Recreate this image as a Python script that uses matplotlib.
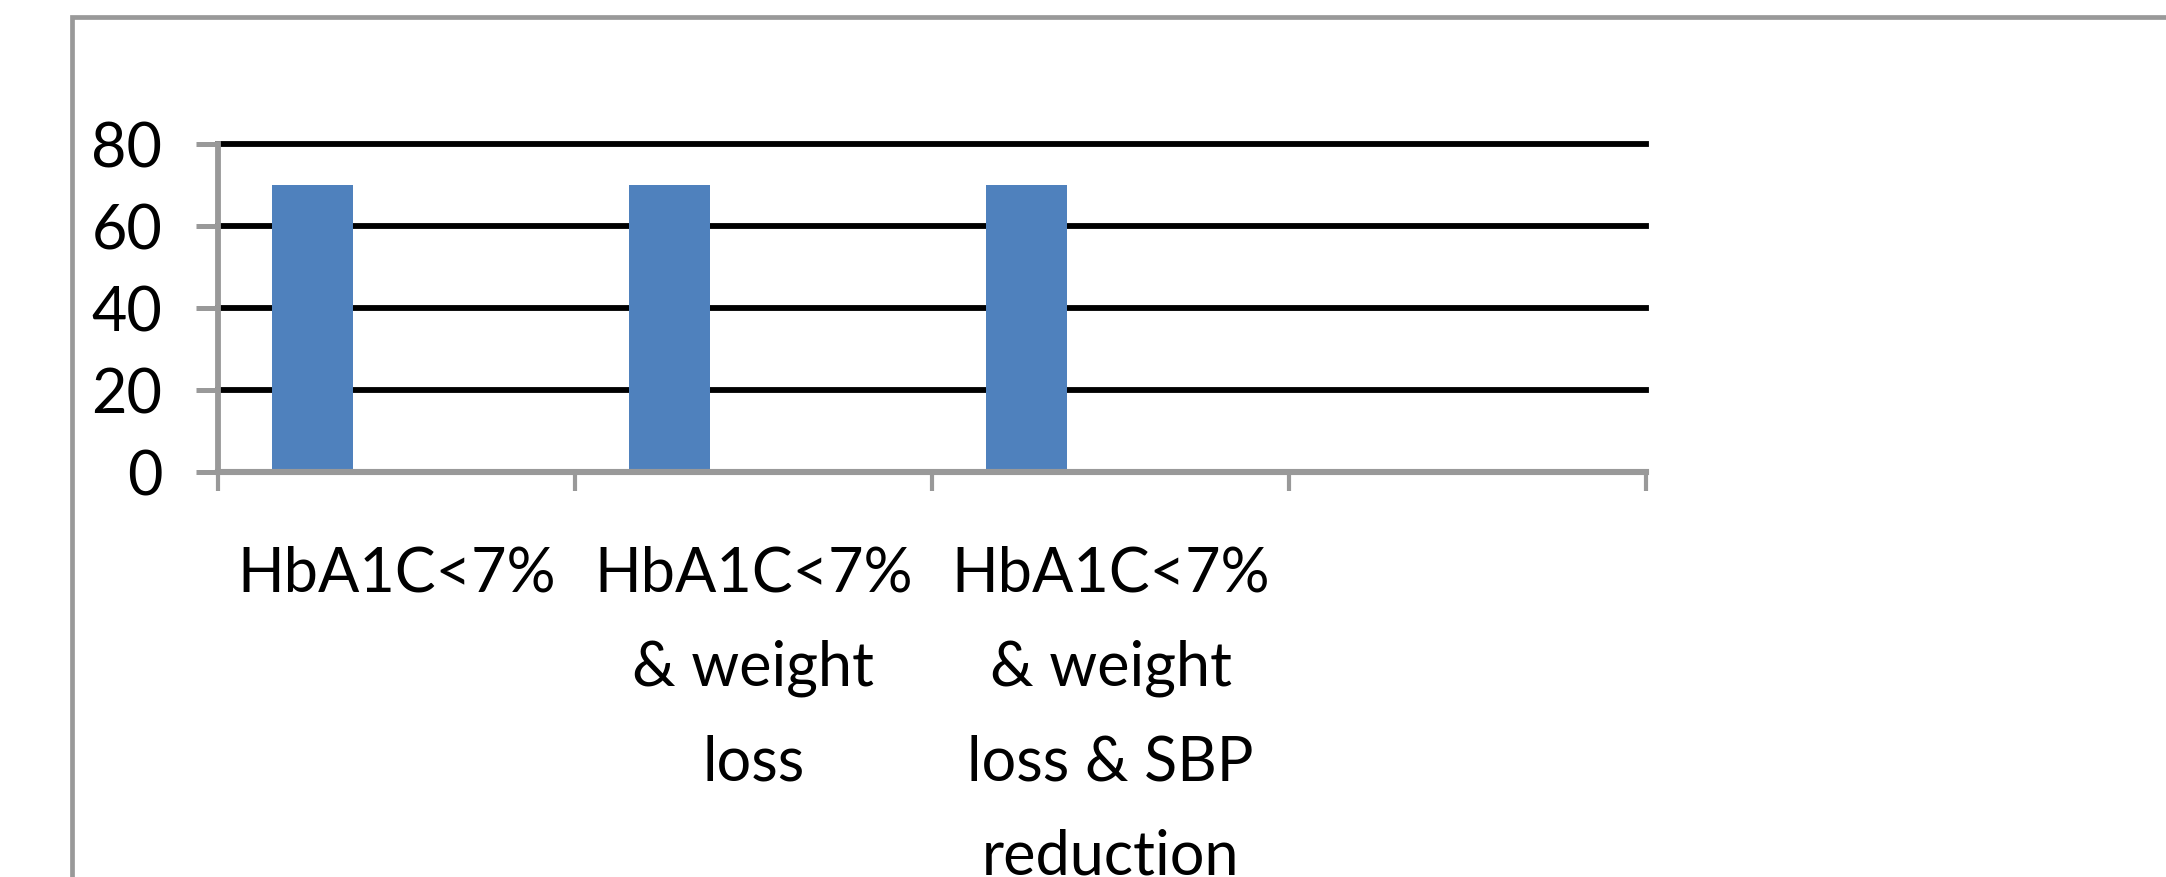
import matplotlib
matplotlib.use("Agg")
import matplotlib.pyplot as plt
from matplotlib.patches import Rectangle
import numpy as np

categories = ["HbA1C<7%",
              "HbA1C<7%\n& weight\nloss",
              "HbA1C<7%\n& weight\nloss & SBP\nreduction",
              ""]
values = [70, 70, 70, np.nan]
yticks = [0, 20, 40, 60, 80]

BAR = "#4F81BD"
GREY = "#999999"
W, H, DPI = 2166, 878, 100

plt.rcParams["font.family"] = ["Lato", "DejaVu Sans"]

fig = plt.figure(figsize=(W / DPI, H / DPI), dpi=DPI)
fig.patch.set_facecolor("white")

# outer chart frame (extends past the right and bottom edges)
fig.patches.append(Rectangle((72 / W, -0.2), 1.2, 1 - 18 / H + 0.2,
                             transform=fig.transFigure, fill=False,
                             edgecolor=GREY, linewidth=3.4))

ax = fig.add_axes([218 / W, 1 - 473 / H, (1646 - 218) / W, (473 - 145) / H])
x = np.arange(len(categories))
ax.bar(x - 0.235, values, width=0.227, color=BAR, linewidth=0, zorder=2)

ax.set_xlim(-0.5, len(categories) - 0.5)
ax.set_ylim(0, 80)
ax.set_yticks(yticks)
ax.set_yticklabels([str(v) for v in yticks], fontsize=44)
ax.tick_params(axis="y", direction="out", length=16, width=3.6, color=GREY, pad=24)

# category boundaries as major ticks, labels on minor ticks
ax.set_xticks(np.arange(len(categories) + 1) - 0.5)
ax.set_xticklabels([])
ax.tick_params(axis="x", which="major", direction="out", length=14, width=3, color=GREY)
ax.set_xticks(x, minor=True)
ax.set_xticklabels(categories, minor=True, fontsize=44, linespacing=1.81)
ax.tick_params(axis="x", which="minor", length=0, pad=52)

ax.set_axisbelow(True)
ax.yaxis.grid(True, color="black", linewidth=4.2)
for gl in ax.get_ygridlines():
    gl.set_clip_on(False)

for s in ("top", "right"):
    ax.spines[s].set_visible(False)
ax.spines["left"].set_color(GREY)
ax.spines["left"].set_linewidth(4.2)
ax.spines["bottom"].set_color(GREY)
ax.spines["bottom"].set_linewidth(4.4)
ax.spines["bottom"].set_zorder(3)

fig.savefig("out.png", dpi=DPI, facecolor="white")
